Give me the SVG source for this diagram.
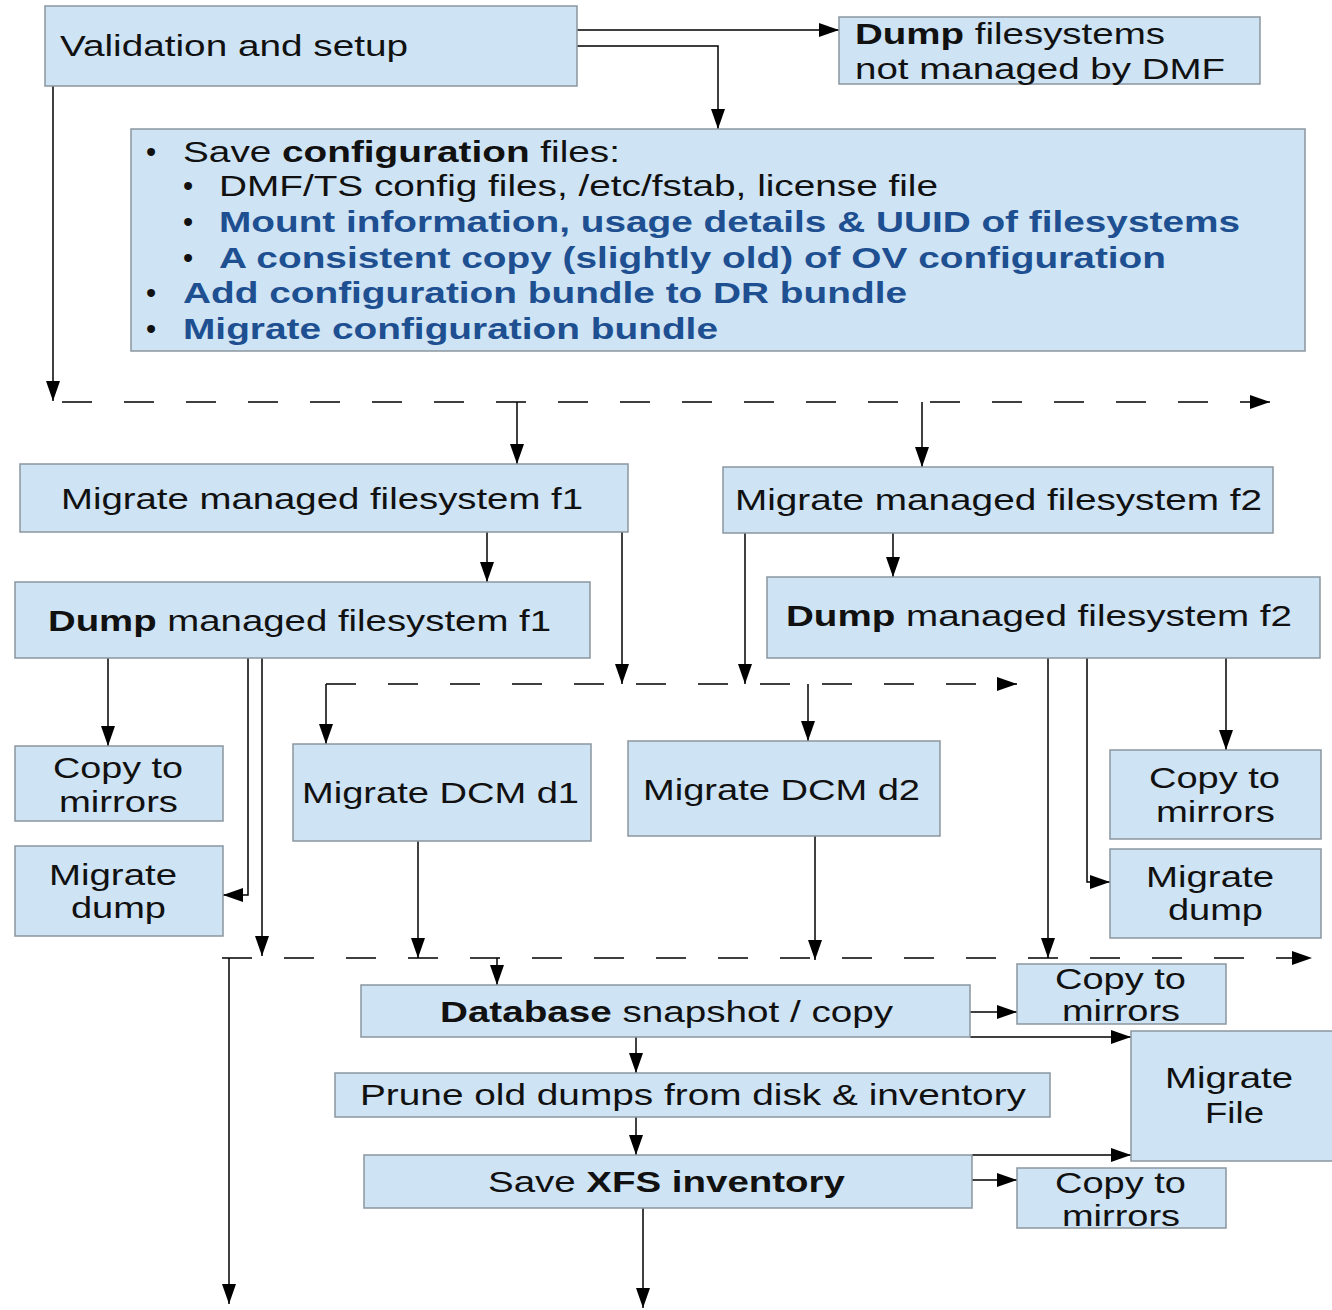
<svg xmlns="http://www.w3.org/2000/svg" width="1332" height="1310" viewBox="0 0 1332 1310">
<style>
.box{fill:#cee3f4;stroke:#8b969e;stroke-width:1.5}
.t{font-family:"Liberation Sans",Arial,sans-serif;font-size:29px;fill:#111}
.b{font-weight:bold}
.blue{fill:#1d4f91;font-weight:bold}
.c{text-anchor:middle}
.ln{fill:none;stroke:#000;stroke-width:1.5}
.ds{fill:none;stroke:#000;stroke-width:1.5;stroke-dasharray:30 32}
</style>
<defs>
<marker id="ah" viewBox="0 0 20 14" refX="20" refY="7" markerWidth="20" markerHeight="14" markerUnits="userSpaceOnUse" orient="auto">
<path d="M0,0 L20,7 L0,14 Z" fill="#000"/>
</marker>
</defs>
<rect width="1332" height="1310" fill="#fff"/>

<g id="connectors">
<path class="ln" d="M577,30 H839" marker-end="url(#ah)"/>
<path class="ln" d="M577,46 H718 V129" marker-end="url(#ah)"/>
<path class="ln" d="M53,86 V401" marker-end="url(#ah)"/>
<path class="ds" d="M62,402 H1270" marker-end="url(#ah)"/>
<path class="ln" d="M517,402 V464" marker-end="url(#ah)"/>
<path class="ln" d="M922,402 V467" marker-end="url(#ah)"/>
<path class="ln" d="M487,532 V582" marker-end="url(#ah)"/>
<path class="ln" d="M622,532 V684" marker-end="url(#ah)"/>
<path class="ln" d="M893,533 V577" marker-end="url(#ah)"/>
<path class="ln" d="M745,533 V684" marker-end="url(#ah)"/>
<path class="ds" d="M326,684 H1017" marker-end="url(#ah)"/>
<path class="ln" d="M326,684 V744" marker-end="url(#ah)"/>
<path class="ln" d="M808,684 V741" marker-end="url(#ah)"/>
<path class="ln" d="M108,658 V746" marker-end="url(#ah)"/>
<path class="ln" d="M248,650 V895 H223" marker-end="url(#ah)"/>
<path class="ln" d="M262,650 V956" marker-end="url(#ah)"/>
<path class="ln" d="M418,841 V958" marker-end="url(#ah)"/>
<path class="ln" d="M815,834 V960" marker-end="url(#ah)"/>
<path class="ln" d="M1048,658 V958" marker-end="url(#ah)"/>
<path class="ln" d="M1087,658 V882 H1110" marker-end="url(#ah)"/>
<path class="ln" d="M1226,658 V750" marker-end="url(#ah)"/>
<path class="ds" d="M222,958 H1312" marker-end="url(#ah)"/>
<path class="ln" d="M229,958 V1304" marker-end="url(#ah)"/>
<path class="ln" d="M497,958 V985" marker-end="url(#ah)"/>
<path class="ln" d="M970,1012 H1017" marker-end="url(#ah)"/>
<path class="ln" d="M970,1037 H1131" marker-end="url(#ah)"/>
<path class="ln" d="M636,1037 V1073" marker-end="url(#ah)"/>
<path class="ln" d="M636,1117 V1155" marker-end="url(#ah)"/>
<path class="ln" d="M972,1180 H1017" marker-end="url(#ah)"/>
<path class="ln" d="M972,1155 H1131" marker-end="url(#ah)"/>
<path class="ln" d="M643,1208 V1308" marker-end="url(#ah)"/>
</g>

<g id="validation">
<rect class="box" x="45" y="6" width="532" height="80"/>
<text class="t" x="60" y="56" textLength="348" lengthAdjust="spacingAndGlyphs">Validation and setup</text>
</g>

<g id="dump-unmanaged">
<rect class="box" x="839" y="17" width="421" height="67"/>
<text class="t" x="855" y="44" textLength="310" lengthAdjust="spacingAndGlyphs"><tspan class="b">Dump</tspan> filesystems</text>
<text class="t" x="855" y="79" textLength="370" lengthAdjust="spacingAndGlyphs">not managed by DMF</text>
</g>

<g id="config">
<rect class="box" x="131" y="129" width="1174" height="222"/>
<text class="t" x="146" y="162">•</text>
<text class="t" x="183" y="162" textLength="437" lengthAdjust="spacingAndGlyphs">Save <tspan class="b">configuration</tspan> files:</text>
<text class="t" x="183" y="196">•</text>
<text class="t" x="219" y="196" textLength="719" lengthAdjust="spacingAndGlyphs">DMF/TS config files, /etc/fstab, license file</text>
<text class="t" x="183" y="232">•</text>
<text class="t blue" x="219" y="232" textLength="1021" lengthAdjust="spacingAndGlyphs">Mount information, usage details &amp; UUID of filesystems</text>
<text class="t" x="183" y="268">•</text>
<text class="t blue" x="219" y="268" textLength="947" lengthAdjust="spacingAndGlyphs">A consistent copy (slightly old) of OV configuration</text>
<text class="t" x="146" y="303">•</text>
<text class="t blue" x="183" y="303" textLength="724" lengthAdjust="spacingAndGlyphs">Add configuration bundle to DR bundle</text>
<text class="t" x="146" y="339">•</text>
<text class="t blue" x="183" y="339" textLength="535" lengthAdjust="spacingAndGlyphs">Migrate configuration bundle</text>
</g>

<g id="migrate-f1">
<rect class="box" x="20" y="464" width="608" height="68"/>
<text class="t" x="61" y="509" textLength="522" lengthAdjust="spacingAndGlyphs">Migrate managed filesystem f1</text>
</g>

<g id="migrate-f2">
<rect class="box" x="723" y="467" width="550" height="66"/>
<text class="t" x="735" y="510" textLength="527" lengthAdjust="spacingAndGlyphs">Migrate managed filesystem f2</text>
</g>

<g id="dump-f1">
<rect class="box" x="15" y="582" width="575" height="76"/>
<text class="t" x="48" y="631" textLength="503" lengthAdjust="spacingAndGlyphs"><tspan class="b">Dump</tspan> managed filesystem f1</text>
</g>

<g id="dump-f2">
<rect class="box" x="767" y="577" width="553" height="81"/>
<text class="t" x="786" y="626" textLength="506" lengthAdjust="spacingAndGlyphs"><tspan class="b">Dump</tspan> managed filesystem f2</text>
</g>

<g id="copy-f1">
<rect class="box" x="15" y="746" width="208" height="75"/>
<text class="t" x="53" y="778" textLength="130" lengthAdjust="spacingAndGlyphs">Copy to</text>
<text class="t" x="59" y="812" textLength="119" lengthAdjust="spacingAndGlyphs">mirrors</text>
</g>

<g id="migdump-f1">
<rect class="box" x="15" y="846" width="208" height="90"/>
<text class="t" x="49" y="885" textLength="128" lengthAdjust="spacingAndGlyphs">Migrate</text>
<text class="t" x="71" y="918" textLength="95" lengthAdjust="spacingAndGlyphs">dump</text>
</g>

<g id="dcm-d1">
<rect class="box" x="293" y="744" width="298" height="97"/>
<text class="t" x="302" y="803" textLength="277" lengthAdjust="spacingAndGlyphs">Migrate DCM d1</text>
</g>

<g id="dcm-d2">
<rect class="box" x="628" y="741" width="312" height="95"/>
<text class="t" x="643" y="800" textLength="277" lengthAdjust="spacingAndGlyphs">Migrate DCM d2</text>
</g>

<g id="copy-f2">
<rect class="box" x="1110" y="750" width="211" height="89"/>
<text class="t" x="1149" y="788" textLength="131" lengthAdjust="spacingAndGlyphs">Copy to</text>
<text class="t" x="1156" y="822" textLength="119" lengthAdjust="spacingAndGlyphs">mirrors</text>
</g>

<g id="migdump-f2">
<rect class="box" x="1110" y="849" width="211" height="89"/>
<text class="t" x="1146" y="887" textLength="128" lengthAdjust="spacingAndGlyphs">Migrate</text>
<text class="t" x="1168" y="920" textLength="95" lengthAdjust="spacingAndGlyphs">dump</text>
</g>

<g id="database">
<rect class="box" x="361" y="985" width="609" height="52"/>
<text class="t" x="440" y="1022" textLength="453" lengthAdjust="spacingAndGlyphs"><tspan class="b">Database</tspan> snapshot / copy</text>
</g>

<g id="copy-db">
<rect class="box" x="1017" y="964" width="209" height="60"/>
<text class="t" x="1055" y="989" textLength="131" lengthAdjust="spacingAndGlyphs">Copy to</text>
<text class="t" x="1062" y="1021" textLength="118" lengthAdjust="spacingAndGlyphs">mirrors</text>
</g>

<g id="migrate-file">
<rect class="box" x="1131" y="1031" width="205" height="130"/>
<text class="t" x="1165" y="1088" textLength="128" lengthAdjust="spacingAndGlyphs">Migrate</text>
<text class="t" x="1205" y="1123" textLength="59" lengthAdjust="spacingAndGlyphs">File</text>
</g>

<g id="prune">
<rect class="box" x="335" y="1073" width="715" height="44"/>
<text class="t" x="360" y="1105" textLength="666" lengthAdjust="spacingAndGlyphs">Prune old dumps from disk &amp; inventory</text>
</g>

<g id="save-xfs">
<rect class="box" x="364" y="1155" width="608" height="53"/>
<text class="t" x="488" y="1192" textLength="357" lengthAdjust="spacingAndGlyphs">Save <tspan class="b">XFS inventory</tspan></text>
</g>

<g id="copy-xfs">
<rect class="box" x="1017" y="1168" width="209" height="60"/>
<text class="t" x="1055" y="1193" textLength="131" lengthAdjust="spacingAndGlyphs">Copy to</text>
<text class="t" x="1062" y="1226" textLength="118" lengthAdjust="spacingAndGlyphs">mirrors</text>
</g>
</svg>
